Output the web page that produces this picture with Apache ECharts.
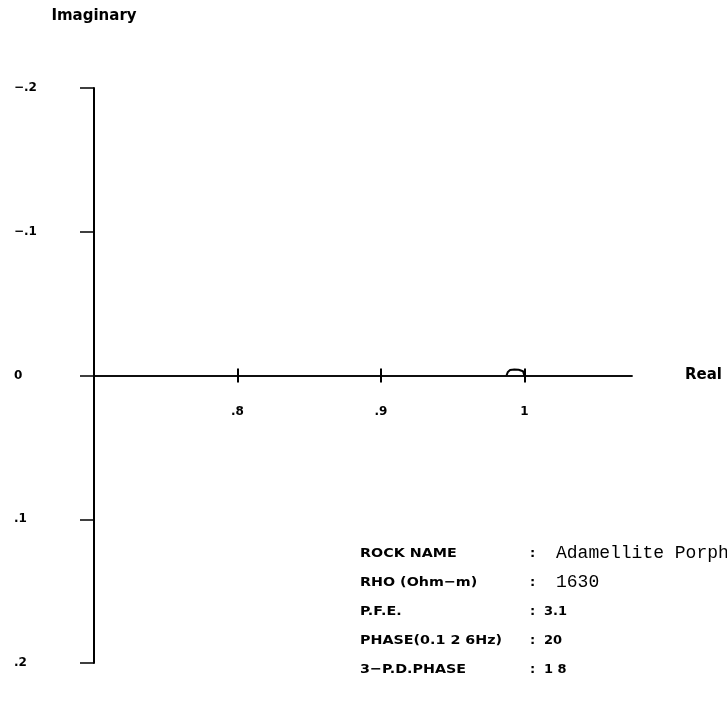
<!DOCTYPE html>
<html>
<head>
<meta charset="utf-8">
<script src="https://cdn.jsdelivr.net/npm/echarts@6/dist/echarts.min.js"></script>
<style>
  html, body { margin: 0; padding: 0; background: #fff; }
  #chart { width: 727px; height: 710px; }
</style>
</head>
<body>
<div id="chart"></div>
<script>
// complex resistivity (normalised)
const realPart = [0.9875, 0.9885, 0.990, 0.993, 0.996, 0.999, 1.0]
const imagPart = [0, -0.0025, -0.0038, -0.0042, -0.0040, -0.0030, 0]

const xTickValues = [0.8, 0.9, 1.0]
const xTickLabels = ['.8', '.9', '1']
const yTickLabels = { '-0.2': '\u2212.2', '-0.1': '\u2212.1', '0': '0', '0.1': '.1', '0.2': '.2' }

const infoLabels = ['ROCK NAME', 'RHO (Ohm\u2212m)', 'P.F.E.', 'PHASE(0.1 2 6Hz)', '3\u2212P.D.PHASE']
const infoValues = ['Adamellite Porphyry', '1630', '3.1', '20', '1 8']

const chart = echarts.init(document.getElementById('chart'))
const bold = 'DejaVu Sans'

const info = []
infoLabels.forEach((lab, i) => {
  const y = 555 + i * 29
  const mono = i < 2
  info.push({
    type: 'text', x: 360, y: y - 8, scaleX: 1.1,
    style: { text: lab, font: 'bold 13px "DejaVu Sans"', fill: '#000' }
  })
  info.push({
    type: 'text', x: 530, y: y - 8,
    style: { text: ':', font: 'bold 13px "DejaVu Sans"', fill: '#000' }
  })
  info.push({
    type: 'text', x: mono ? 556 : 544, y: y - (mono ? 11 : 8),
    style: {
      text: infoValues[i],
      font: mono ? '18px "Liberation Mono"' : 'bold 13px "DejaVu Sans"',
      fill: '#000'
    }
  })
})

const fmtNum = (v) => Math.round(v * 10) / 10
const axisText = { fontFamily: bold, fontWeight: 'bold', fontSize: 12, color: '#000' }

chart.setOption({
  animation: false,
  backgroundColor: '#fff',
  grid: [
    { left: 94, top: 88, right: 95, bottom: 47 },
    // upper half only, so its bottom axis sits on the zero line (ticks below it)
    { left: 94, top: 88, right: 95, bottom: 334.5 }
  ],
  xAxis: [{
    type: 'value',
    gridIndex: 0,
    min: 0.7,
    max: 1.075,
    axisLine: { onZero: true, lineStyle: { color: '#000', width: 1.5 } },
    axisTick: { inside: true, length: 7, customValues: xTickValues, lineStyle: { color: '#000', width: 2 } },
    axisLabel: { show: false },
    splitLine: { show: false }
  }, {
    type: 'value',
    gridIndex: 1,
    position: 'bottom',
    min: 0.7,
    max: 1.075,
    name: 'Real',
    nameLocation: 'end',
    nameGap: 53,
    nameTextStyle: Object.assign({}, axisText, { fontSize: 15 }),
    axisLine: { onZero: false, lineStyle: { color: '#000', width: 1.5 } },
    axisTick: { inside: false, length: 7, customValues: xTickValues, lineStyle: { color: '#000', width: 2 } },
    axisLabel: Object.assign({
      margin: 30,
      customValues: xTickValues,
      formatter: (v) => xTickLabels[xTickValues.indexOf(fmtNum(v))] || ''
    }, axisText),
    splitLine: { show: false }
  }],
  yAxis: [{
    type: 'value',
    gridIndex: 0,
    inverse: true,
    min: -0.2,
    max: 0.2,
    interval: 0.1,
    name: 'Imaginary',
    nameLocation: 'start',
    nameGap: 64,
    nameTextStyle: Object.assign({}, axisText, { fontSize: 15 }),
    axisLine: { lineStyle: { color: '#000', width: 2 } },
    axisTick: { length: 14, lineStyle: { color: '#000', width: 1.5 } },
    axisLabel: Object.assign({
      margin: 80,
      align: 'left',
      formatter: (v) => yTickLabels[String(fmtNum(v))] || ''
    }, axisText),
    splitLine: { show: false }
  }, {
    type: 'value',
    gridIndex: 1,
    show: false
  }],
  series: [{
    type: 'line',
    xAxisIndex: 0,
    yAxisIndex: 0,
    data: realPart.map((r, i) => [r, imagPart[i]]),
    symbol: 'none',
    lineStyle: { color: '#000', width: 2 }
  }],
  graphic: info
})
</script>
</body>
</html>
